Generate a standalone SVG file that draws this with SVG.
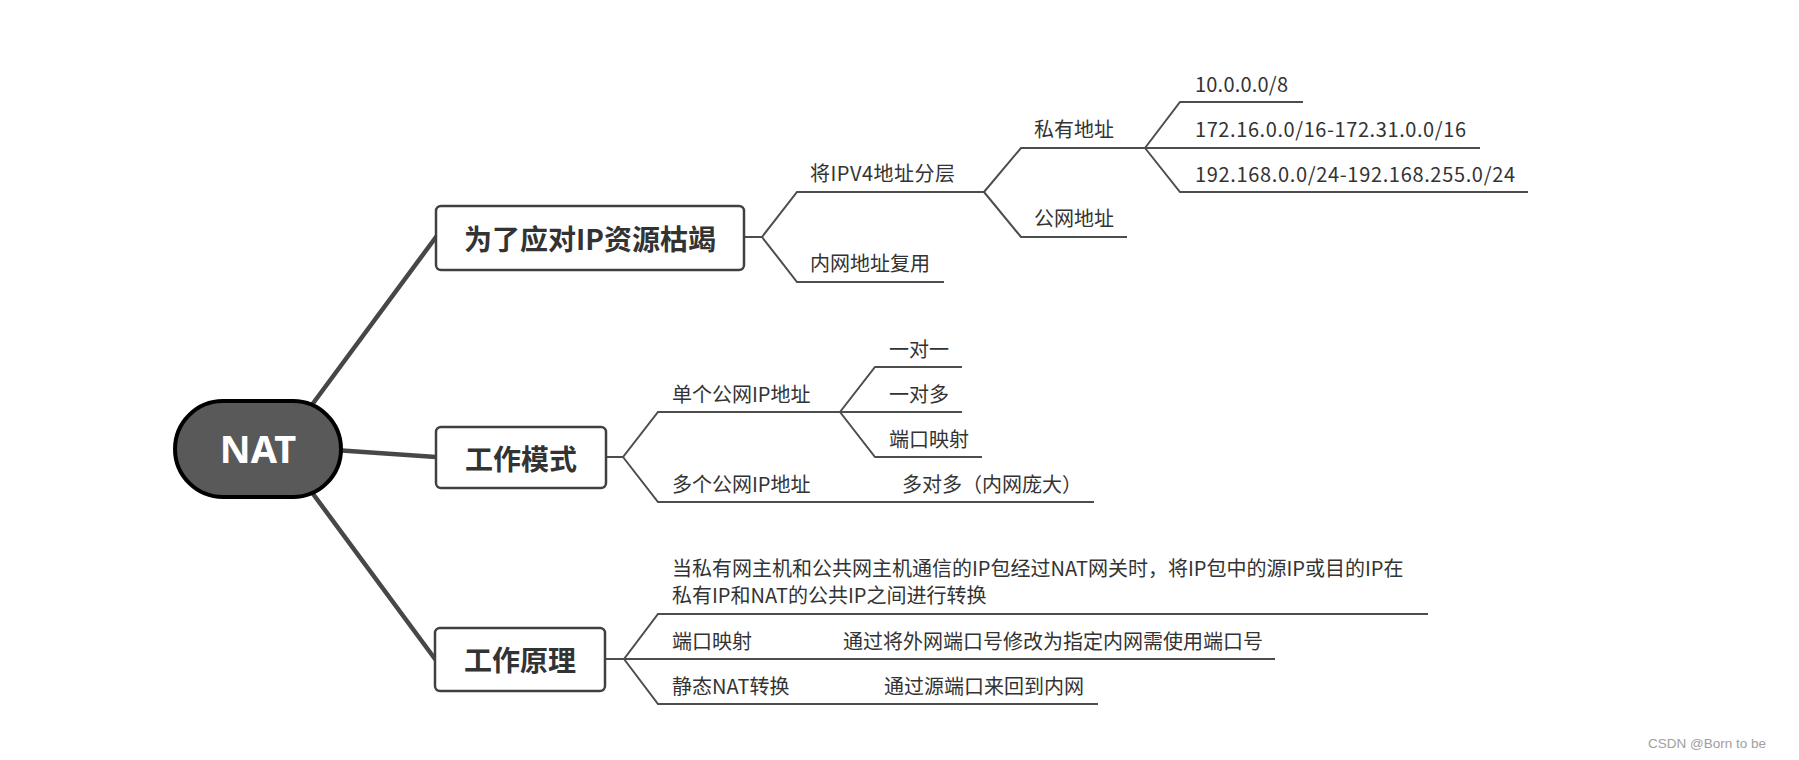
<svg xmlns="http://www.w3.org/2000/svg" width="1799" height="760" viewBox="0 0 1799 760">
<style>
.bg{fill:#ffffff}
.main{stroke:#474747;stroke-width:4.5;fill:none;stroke-linecap:round}
.br{stroke:#4d4d4d;stroke-width:2;fill:none;stroke-linejoin:miter}
.box{fill:#ffffff;stroke:#404040;stroke-width:2.5}
.bt{font-family:"Noto Sans CJK SC",sans-serif;font-weight:700;font-size:28px;fill:#333333;text-anchor:middle}
.t{font-family:"Noto Sans CJK SC",sans-serif;font-size:20px;fill:#333333}
.root{fill:#595959;stroke:#000000;stroke-width:4}
.rt{font-family:"Noto Sans","Liberation Sans",sans-serif;font-weight:700;font-size:38px;fill:#ffffff;text-anchor:middle}
.wm{font-family:"Liberation Sans",Arial,sans-serif;font-size:13.5px;fill:#a0a0a0}
</style>
<rect class="bg" x="0" y="0" width="1799" height="760"/>
<g id="connectors">
  <path class="main" d="M300,421 L436,237"/>
  <path class="main" d="M320,449 L436,457"/>
  <path class="main" d="M305,483 L435,659"/>
  <path class="br" d="M744,237 H762 L797,192 H984"/>
  <path class="br" d="M762,237 L797,282 H944"/>
  <path class="br" d="M984,192 L1021,148 H1145"/>
  <path class="br" d="M984,192 L1021,237 H1127"/>
  <path class="br" d="M1145,148 L1180,102 H1303"/>
  <path class="br" d="M1145,148 H1480"/>
  <path class="br" d="M1145,148 L1180,192 H1528"/>
  <path class="br" d="M606,457 H623 L658,412 H840"/>
  <path class="br" d="M623,457 L658,502 H1094"/>
  <path class="br" d="M840,412 L875,367 H962"/>
  <path class="br" d="M840,412 H962"/>
  <path class="br" d="M840,412 L875,457 H982"/>
  <path class="br" d="M605,659 H624 L658,614 H1428"/>
  <path class="br" d="M624,659 H1275"/>
  <path class="br" d="M624,659 L658,704 H1098"/>
</g>
<g id="node-nat">
  <rect class="root" x="175" y="401" width="166" height="96" rx="48" ry="48"/>
  <text class="rt" x="258" y="463">NAT</text>
</g>
<g id="node-reason">
  <rect class="box" x="436" y="206" width="308" height="64" rx="5"/>
  <text class="bt" x="590" y="250">为了应对IP资源枯竭</text>
</g>
<g id="node-mode">
  <rect class="box" x="436" y="427" width="170" height="61" rx="5"/>
  <text class="bt" x="521" y="470">工作模式</text>
</g>
<g id="node-principle">
  <rect class="box" x="435" y="628" width="170" height="63" rx="5"/>
  <text class="bt" x="520" y="671">工作原理</text>
</g>
<g id="node-layer"><text class="t" x="810" y="181" textLength="145" lengthAdjust="spacing">将IPV4地址分层</text></g>
<g id="node-reuse"><text class="t" x="810" y="271">内网地址复用</text></g>
<g id="node-private"><text class="t" x="1034" y="137">私有地址</text></g>
<g id="node-public"><text class="t" x="1034" y="226">公网地址</text></g>
<g id="node-10"><text class="t" x="1195" y="92" textLength="93" lengthAdjust="spacing">10.0.0.0/8</text></g>
<g id="node-172"><text class="t" x="1195" y="137" textLength="271" lengthAdjust="spacing">172.16.0.0/16-172.31.0.0/16</text></g>
<g id="node-192"><text class="t" x="1195" y="182" textLength="320" lengthAdjust="spacing">192.168.0.0/24-192.168.255.0/24</text></g>
<g id="node-single"><text class="t" x="672" y="402">单个公网IP地址</text></g>
<g id="node-1to1"><text class="t" x="889" y="357">一对一</text></g>
<g id="node-1tomany"><text class="t" x="889" y="402">一对多</text></g>
<g id="node-portmap1"><text class="t" x="889" y="447">端口映射</text></g>
<g id="node-multi"><text class="t" x="672" y="492">多个公网IP地址</text></g>
<g id="node-manytomany"><text class="t" x="902" y="492">多对多（内网庞大）</text></g>
<g id="node-desc">
  <text class="t" x="672" y="576">当私有网主机和公共网主机通信的IP包经过NAT网关时，将IP包中的源IP或目的IP在</text>
  <text class="t" x="672" y="603">私有IP和NAT的公共IP之间进行转换</text>
</g>
<g id="node-portmap2"><text class="t" x="672" y="649">端口映射</text></g>
<g id="node-portmap2-desc"><text class="t" x="843" y="649">通过将外网端口号修改为指定内网需使用端口号</text></g>
<g id="node-static"><text class="t" x="672" y="694">静态NAT转换</text></g>
<g id="node-static-desc"><text class="t" x="884" y="694">通过源端口来回到内网</text></g>
<text class="wm" x="1648" y="748">CSDN @Born to be</text>
</svg>
